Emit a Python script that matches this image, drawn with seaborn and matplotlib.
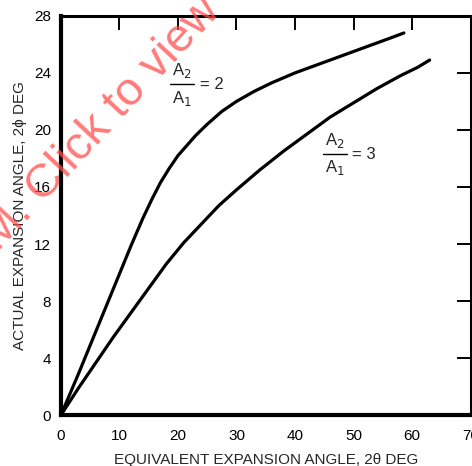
import matplotlib
matplotlib.use("Agg")
import matplotlib.pyplot as plt
import seaborn as sns
import pandas as pd

# Equivalent expansion angle 2θ (deg) vs actual expansion angle 2φ (deg)
theta_ratio2 = [0, 3, 6, 9, 12, 14, 15.5, 17, 18.5, 20, 21.5, 23, 25, 27.5,
                30, 33, 36, 40, 44, 48, 52, 56, 58.6]
phi_ratio2 = [0, 2.9, 5.9, 8.9, 11.9, 13.8, 15.1, 16.3, 17.3, 18.2, 18.9, 19.6,
              20.4, 21.3, 22.0, 22.7, 23.3, 24.0, 24.6, 25.2, 25.8, 26.4, 26.8]

theta_ratio3 = [0, 3, 6, 9, 12, 15, 18, 21, 24, 27, 30, 34, 38, 42, 46, 50,
                54, 58, 61, 63]
phi_ratio3 = [0, 1.9, 3.7, 5.5, 7.2, 8.9, 10.6, 12.1, 13.4, 14.7, 15.8, 17.2,
              18.5, 19.7, 20.9, 21.9, 22.9, 23.8, 24.4, 24.9]

x_ticks = [0, 10, 20, 30, 40, 50, 60, 70]
y_ticks = [0, 4, 8, 12, 16, 20, 24, 28]

sns.set_style("white")
plt.rcParams["font.family"] = ["Liberation Sans", "DejaVu Sans"]

df = pd.concat([
    pd.DataFrame({"theta": theta_ratio2, "phi": phi_ratio2, "ratio": "2"}),
    pd.DataFrame({"theta": theta_ratio3, "phi": phi_ratio3, "ratio": "3"}),
])

fig = plt.figure(figsize=(4.72, 4.66), dpi=100)
ax = fig.add_axes([0.129, 0.109, 0.868, 0.857])

sns.lineplot(data=df, x="theta", y="phi", units="ratio", estimator=None,
             color="black", linewidth=2.3, ax=ax, legend=False)
for line in ax.get_lines():
    line.set_solid_joinstyle("round")

ax.set_xlim(0, 70)
ax.set_ylim(0, 28)
ax.set_xticks(x_ticks)
ax.set_yticks(y_ticks)
ax.tick_params(direction="in", top=True, right=True, length=10, width=1.4,
               labelsize=11, colors="black", pad=7)
ax.tick_params(axis="x", pad=10)
for side, lw in [("left", 3.0), ("bottom", 3.0), ("top", 2.2), ("right", 2.2)]:
    ax.spines[side].set_linewidth(lw)
    ax.spines[side].set_color("black")

ax.set_xlabel("EQUIVALENT EXPANSION ANGLE, 2θ DEG", fontsize=11, labelpad=7)
ax.set_ylabel("ACTUAL EXPANSION ANGLE, 2ϕ DEG", fontsize=11, labelpad=5)


def ratio_label(x, y, value):
    ax.text(x + 2.0, y + 0.3, r"A$_2$", ha="center", va="bottom", fontsize=12)
    ax.text(x + 2.0, y - 0.3, r"A$_1$", ha="center", va="top", fontsize=12)
    ax.plot([x, x + 4.0], [y, y], color="black", linewidth=1.0)
    ax.text(x + 5.0, y, f"= {value}", ha="left", va="center", fontsize=12)


ratio_label(18.7, 23.2, 2)
ratio_label(44.8, 18.3, 3)

fig.text(-0.005, 0.46, "M. Click to view", rotation=47, rotation_mode="anchor",
         ha="left", va="baseline", fontsize=34, color="#ff4d4d", alpha=0.75)

fig.savefig("out.png", dpi=100)
